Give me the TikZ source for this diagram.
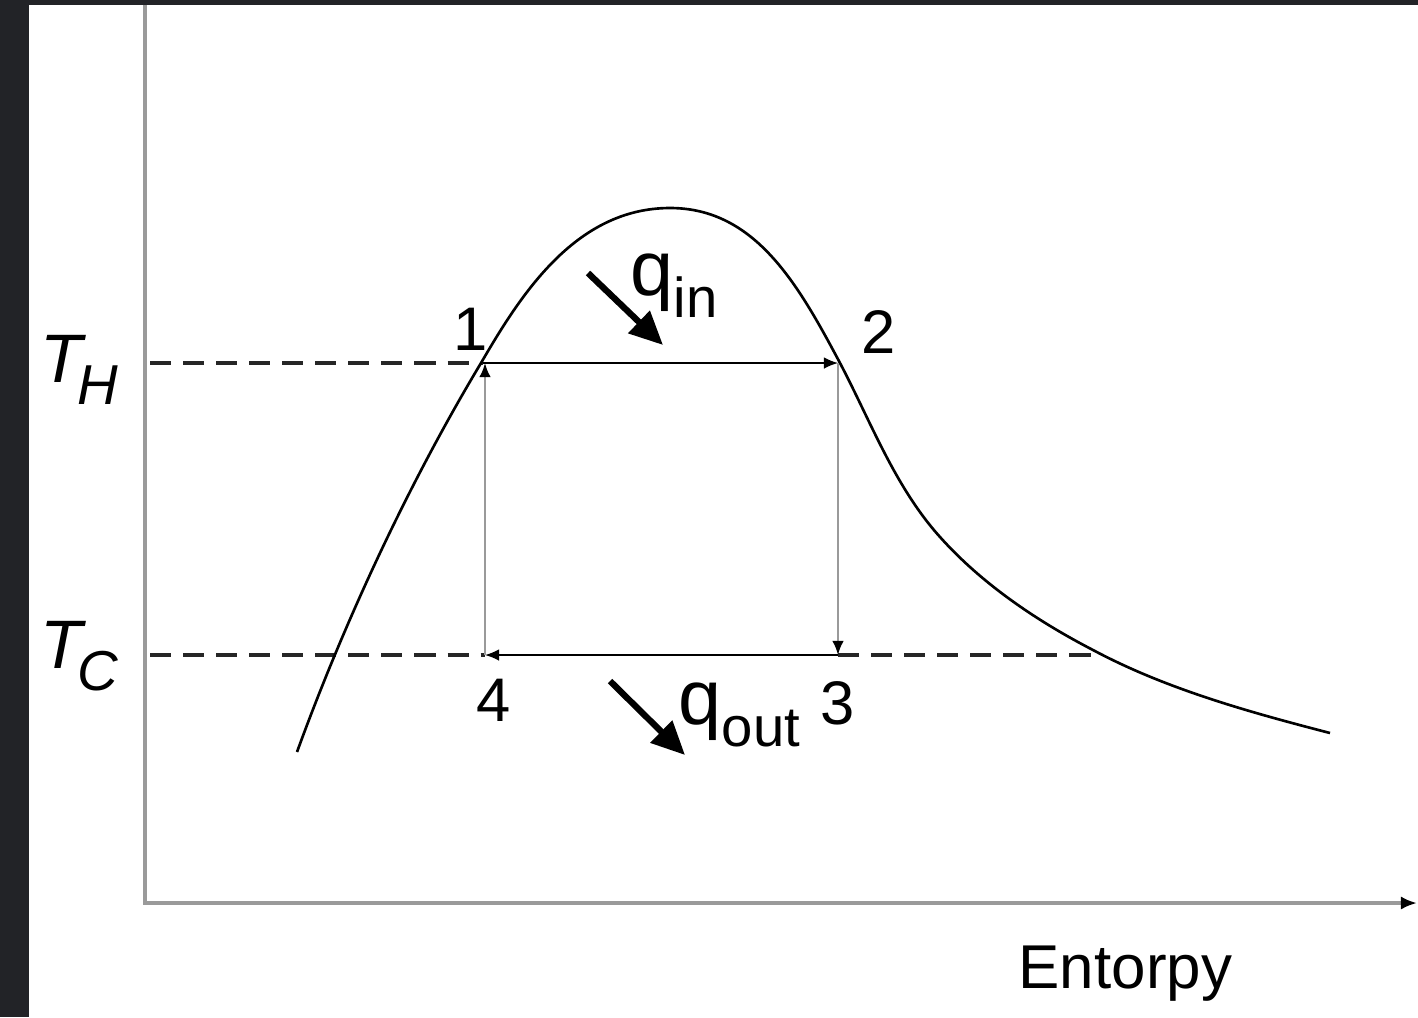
\documentclass[tikz,border=0pt]{standalone}
\usepackage{fontspec}
\setmainfont{Liberation Sans}
\usepackage{xcolor}
\usetikzlibrary{arrows.meta}

\definecolor{framedark}{HTML}{222327}
\definecolor{axisgray}{HTML}{9A9A9A}

\begin{document}
\begin{tikzpicture}[
        x=0.01cm, y=-0.01cm,
        axis/.style={
            line width=1.1pt,
            draw=axisgray
        },
        satcurve/.style={
            line width=0.75pt,
            black
        },
        level/.style={
            line width=0.95pt,
            black!85,
            dash pattern=on 6pt off 3.4pt
        },
        hline/.style={
            -{Latex[length=4pt,width=3.3pt,color=black]},
            line width=0.45pt,
            black
        },
        vline/.style={
            -{Latex[length=4pt,width=3.3pt,color=black]},
            line width=0.65pt,
            draw=axisgray
        },
        heat/.style={
            -{Triangle[length=9.5pt,width=8.5pt]},
            line width=1.8pt,
            black
        },
        statenum/.style={
            inner sep=0pt,
            font=\fontsize{17.5}{19}\selectfont
        }
    ]
    % Frame and bounding box
    \useasboundingbox (0,0) rectangle (1418,1017);
    \fill[framedark] (0,0) rectangle (1418,1017);
    \fill[white] (29,5) rectangle (1418,1017);

    % Axes
    \coordinate (origin) at (145,903);
    \coordinate (ytop) at (145,5);
    \coordinate (xend) at (1417,903);
    \draw[axis] (origin) -- (ytop);
    \draw[axis, -{Latex[length=4.6pt,width=3.8pt,color=black]}] (143,903) -- (xend);

    % Cycle corners
    \coordinate (p1) at (483,363);
    \coordinate (p2) at (838,363);
    \coordinate (p3) at (838,655);
    \coordinate (p4) at (485,655);

    % Temperature levels
    \coordinate (thA) at (150,363);
    \coordinate (tcA) at (150,655);
    \coordinate (tcB) at (1095,655);
    \draw[level] (thA) -- (p1);
    \draw[level] (tcA) -- (p4);
    \draw[level] (p3) -- (tcB);

    % Saturation dome
    \draw[satcurve] (297,752)
        .. controls (345,620) and (409,483) .. (481,363)
        .. controls (520,296) and (575,208) .. (670,208)
        .. controls (755,208) and (798,284) .. (840,363)
        .. controls (871,422) and (895,487) .. (940,537)
        .. controls (982,584) and (1037,621) .. (1093,650)
        .. controls (1166,689) and (1249,712) .. (1330,733);

    % Cycle
    \draw[hline] (p1) -- (p2);
    \draw[vline] (p2) -- (p3);
    \draw[hline] (p3) -- (p4);
    \draw[vline] (p4) -- (p4 |- p1);

    % State numbers
    \node[statenum] (n1) at (471,329) {1};
    \node[statenum] (n2) at (879,332) {2};
    \node[statenum] (n3) at (838,703) {3};
    \node[statenum] (n4) at (494,700) {4};

    % Heat flows
    \coordinate (qinTail) at (588,273);
    \coordinate (qinTip) at (663,345);
    \draw[heat] (qinTail) -- (qinTip);
    \node[anchor=base west, inner sep=0pt,
        font=\fontsize{22}{24}\selectfont] (qin) at (630,295)
        {q\raisebox{-6.5pt}{\fontsize{16}{18}\selectfont in}};

    \coordinate (qoutTail) at (610,681);
    \coordinate (qoutTip) at (685,755);
    \draw[heat] (qoutTail) -- (qoutTip);
    \node[anchor=base west, inner sep=0pt,
        font=\fontsize{22}{24}\selectfont] (qout) at (678,724)
        {q\raisebox{-6.5pt}{\fontsize{16}{18}\selectfont out}};

    % Axis labels
    \node[anchor=base west, inner sep=0pt,
        font=\fontsize{19.5}{21}\selectfont\itshape] (TH) at (40,382)
        {T\kern-1.5pt\raisebox{-6.5pt}{\fontsize{16}{18}\selectfont H}};
    \node[anchor=base west, inner sep=0pt,
        font=\fontsize{19.5}{21}\selectfont\itshape] (TC) at (40,668)
        {T\kern-1.5pt\raisebox{-6.5pt}{\fontsize{16}{18}\selectfont C}};
    \node[anchor=base west, inner sep=0pt,
        font=\fontsize{17.6}{19}\selectfont] (xlabel) at (1018,988)
        {Entorpy};
\end{tikzpicture}
\end{document}
